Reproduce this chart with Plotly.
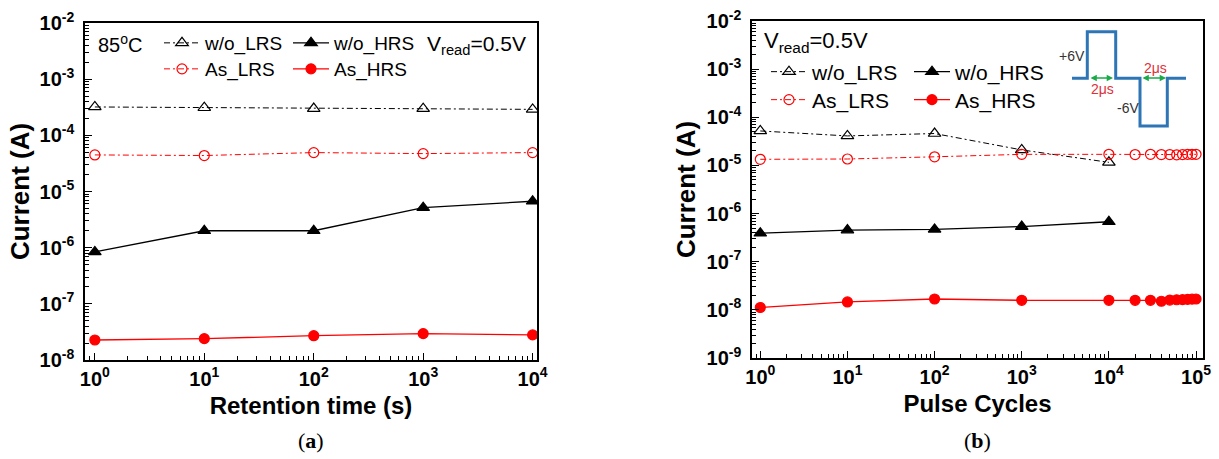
import plotly.graph_objects as go

W, H = 1219, 459
def px(x):
    return x / W
def py(y):
    return 1 - y / H

# ---------------- data: (a) retention at 85 C ----------------
ret_time = [1, 10, 100, 1000, 10000]
ret_wo_lrs = [3.2e-4, 3.1e-4, 3.0e-4, 2.98e-4, 2.9e-4]
ret_wo_hrs = [8.4e-7, 2.0e-6, 2.0e-6, 5.15e-6, 6.7e-6]
ret_as_lrs = [4.48e-5, 4.37e-5, 4.93e-5, 4.73e-5, 4.93e-5]
ret_as_hrs = [2.27e-8, 2.4e-8, 2.71e-8, 2.95e-8, 2.8e-8]

# ---------------- data: (b) pulse endurance ----------------
cyc_wo = [1, 10, 100, 1000, 10000]
cyc_wo_lrs = [5.2e-5, 4.1e-5, 4.6e-5, 2.1e-5, 1.16e-5]
cyc_wo_hrs = [3.9e-7, 4.55e-7, 4.7e-7, 5.37e-7, 6.76e-7]
cyc_as = [1, 10, 100, 1000, 10000, 20000, 30000, 40000, 50000,
          60000, 70000, 80000, 90000, 100000]
cyc_as_lrs = [1.34e-5, 1.36e-5, 1.51e-5, 1.7e-5, 1.7e-5, 1.68e-5, 1.7e-5,
              1.68e-5, 1.68e-5, 1.66e-5, 1.68e-5, 1.7e-5, 1.7e-5, 1.7e-5]
cyc_as_hrs = [1.12e-8, 1.46e-8, 1.68e-8, 1.58e-8, 1.58e-8, 1.58e-8, 1.58e-8,
              1.51e-8, 1.6e-8, 1.62e-8, 1.63e-8, 1.65e-8, 1.67e-8, 1.68e-8]

# ---------------- tick labels ----------------
ya_exp = [-8, -7, -6, -5, -4, -3, -2]
yb_exp = [-9, -8, -7, -6, -5, -4, -3, -2]
xa_exp = [0, 1, 2, 3, 4]
xb_exp = [0, 1, 2, 3, 4, 5]

names = ["w/o_LRS", "w/o_HRS", "As_LRS", "As_HRS"]

RED = "#ff0000"
DASHDOT = "6px,3px,2px,3px"
FONT = "Liberation Sans, Arial, sans-serif"

fig = go.Figure()

def add_series(x, y, name, xa, ya, legend, color, symbol, size, dash, lw):
    fig.add_trace(go.Scatter(
        x=x, y=y, name=name, mode="lines+markers", xaxis=xa, yaxis=ya,
        legend=legend,
        line=dict(color=color, width=lw, dash=dash),
        marker=dict(symbol=symbol, size=size, color=color,
                    line=dict(color=color, width=1.2)),
    ))

# (a)
add_series(ret_time, ret_wo_lrs, names[0], "x", "y", "legend", "black", "triangle-up-open", 11, DASHDOT, 1)
add_series(ret_time, ret_wo_hrs, names[1], "x", "y", "legend", "black", "triangle-up", 11, "solid", 1.3)
add_series(ret_time, ret_as_lrs, names[2], "x", "y", "legend2", RED, "circle-open", 10, DASHDOT, 1)
add_series(ret_time, ret_as_hrs, names[3], "x", "y", "legend2", RED, "circle", 10, "solid", 1.3)
# (b)
add_series(cyc_wo, cyc_wo_lrs, names[0], "x2", "y2", "legend3", "black", "triangle-up-open", 11, DASHDOT, 1)
add_series(cyc_wo, cyc_wo_hrs, names[1], "x2", "y2", "legend3", "black", "triangle-up", 11, "solid", 1.3)
add_series(cyc_as, cyc_as_lrs, names[2], "x2", "y2", "legend4", RED, "circle-open", 10, DASHDOT, 1)
add_series(cyc_as, cyc_as_hrs, names[3], "x2", "y2", "legend4", RED, "circle", 10, "solid", 1.3)


def minor_vals(exps):
    vals = []
    for e in range(min(exps) - 1, max(exps) + 1):
        for k in range(2, 10):
            vals.append(k * 10.0 ** e)
    return vals


def axis(exps, rng, domain, anchor, title, standoff, tsize, lstand):
    return dict(
        type="log", range=rng, domain=domain, anchor=anchor,
        showline=True, linecolor="black", linewidth=1.5, mirror=True,
        ticks="inside", ticklen=7, tickwidth=1.2, tickcolor="black",
        showgrid=False, zeroline=False, automargin=False,
        ticklabelstandoff=lstand,
        tickmode="array",
        tickvals=[10.0 ** e for e in exps],
        ticktext=["10<sup>%d</sup>" % e for e in exps],
        tickfont=dict(family=FONT, size=20, color="black", weight="bold"),
        minor=dict(tickmode="array", tickvals=minor_vals(exps), ticks="inside",
                   ticklen=4, tickwidth=1, tickcolor="black", showgrid=False),
        title=dict(text=title, standoff=standoff,
                   font=dict(family=FONT, size=tsize, color="black", weight="bold")),
    )


legend_common = dict(
    orientation="h", xanchor="left", yanchor="middle",
    bgcolor="rgba(0,0,0,0)", borderwidth=0, entrywidthmode="pixels",
    itemwidth=36, traceorder="normal", itemclick=False,
)

fig.update_layout(
    width=W, height=H,
    margin=dict(l=0, r=0, t=0, b=0, autoexpand=False),
    paper_bgcolor="white", plot_bgcolor="white",
    font=dict(family=FONT, color="black"),
    xaxis=axis(xa_exp, [-0.09, 4.04], [px(85), px(537)], "y", "Retention time (s)", 8, 24, 0),
    yaxis=axis(ya_exp, [-8, -2], [py(360), py(23)], "x", "Current (A)", 2, 26, 5),
    xaxis2=axis(xb_exp, [-0.095, 5.08], [px(752), px(1203)], "y2", "Pulse Cycles", 8, 24, 0),
    yaxis2=axis(yb_exp, [-9, -2], [py(358), py(21)], "x2", "Current (A)", 3, 26, 5),
    legend=dict(legend_common, x=px(159), y=py(43), entrywidth=78,
                font=dict(family=FONT, size=19, color="black")),
    legend2=dict(legend_common, x=px(159), y=py(69), entrywidth=78,
                 font=dict(family=FONT, size=19, color="black")),
    legend3=dict(legend_common, x=px(766), y=py(72), entrywidth=92,
                 font=dict(family=FONT, size=21, color="black")),
    legend4=dict(legend_common, x=px(766), y=py(100), entrywidth=92,
                 font=dict(family=FONT, size=21, color="black")),
)

ann = []
ann.append(dict(text="85<sup>o</sup>C", x=px(96), y=py(44), xref="paper", yref="paper",
                xanchor="left", yanchor="middle", showarrow=False,
                font=dict(family=FONT, size=20, color="black")))
ann.append(dict(text="V<sub>read</sub>=0.5V", x=px(425), y=py(45), xref="paper", yref="paper",
                xanchor="left", yanchor="middle", showarrow=False,
                font=dict(family=FONT, size=21, color="black")))
ann.append(dict(text="V<sub>read</sub>=0.5V", x=px(762), y=py(42), xref="paper", yref="paper",
                xanchor="left", yanchor="middle", showarrow=False,
                font=dict(family=FONT, size=22, color="black")))
for label, cx in (("a", 311), ("b", 977)):
    ann.append(dict(text="(<b>%s</b>)" % label, x=px(cx), y=py(440), xref="paper", yref="paper",
                    xanchor="center", yanchor="middle", showarrow=False,
                    font=dict(family="Liberation Serif, DejaVu Serif, serif", size=22, color="black")))

# inset pulse diagram (decorative)
NARROW = "Liberation Sans Narrow, Liberation Sans, Arial"
ann.append(dict(text="+6V", x=px(1072), y=py(56), xref="paper", yref="paper", showarrow=False,
                xanchor="center", yanchor="middle", font=dict(family=NARROW, size=14, color="#333333")))
ann.append(dict(text="-6V", x=px(1128), y=py(108), xref="paper", yref="paper", showarrow=False,
                xanchor="center", yanchor="middle", font=dict(family=NARROW, size=14, color="#333333")))
ann.append(dict(text="2μs", x=px(1102), y=py(89), xref="paper", yref="paper", showarrow=False,
                xanchor="center", yanchor="middle", font=dict(family=NARROW, size=14, color="#e0303a")))
ann.append(dict(text="2μs", x=px(1155), y=py(68), xref="paper", yref="paper", showarrow=False,
                xanchor="center", yanchor="middle", font=dict(family=NARROW, size=14, color="#e0303a")))
for x0, x1 in ((1089, 1113), (1141, 1166)):
    ann.append(dict(text="", x=px(x1), y=py(78), xref="paper", yref="paper",
                    ax=-(x1 - x0), ay=0, showarrow=True, arrowside="end+start",
                    arrowhead=2, arrowsize=0.9, arrowwidth=1.4, arrowcolor="#1aaa4a"))
fig.update_layout(annotations=ann)

wave = [(1072, 78.3), (1087.3, 78.3), (1087.3, 31.7), (1115.7, 31.7), (1115.7, 78.3),
        (1140, 78.3), (1140, 126), (1167.3, 126), (1167.3, 78.3), (1186, 78.3)]
path = "M " + " L ".join("%.5f,%.5f" % (px(a), py(b)) for a, b in wave)
fig.add_shape(type="path", path=path, xref="paper", yref="paper",
              line=dict(color="#2e75b6", width=3), layer="above")

fig.write_html("out.html")
